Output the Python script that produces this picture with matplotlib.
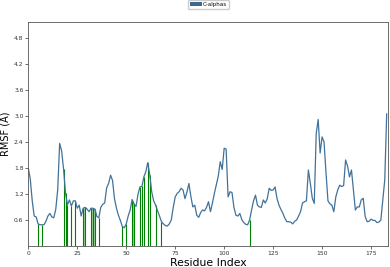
import numpy as np
import matplotlib.pyplot as plt
from matplotlib.patches import Patch

# RMSF per residue
rmsf = [
    1.80, 1.55, 1.05, 0.70, 0.68, 0.52, 0.50, 0.50, 0.50, 0.58,
    0.70, 0.76, 0.68, 0.66, 0.85, 1.30, 2.37, 2.20, 1.78, 1.22,
    0.96, 1.07, 0.93, 1.05, 1.05, 0.88, 0.95, 0.70, 0.88, 0.90,
    0.86, 0.80, 0.88, 0.88, 0.86, 0.69, 0.66, 0.90, 0.97, 1.00,
    1.35, 1.45, 1.64, 1.52, 1.10, 0.88, 0.72, 0.60, 0.46, 0.43,
    0.52, 0.70, 0.84, 1.08, 0.98, 0.92, 1.20, 1.37, 1.38, 1.60,
    1.72, 1.93, 1.65, 1.26, 1.05, 0.95, 0.82, 0.70, 0.57, 0.52,
    0.48, 0.47, 0.52, 0.61, 0.90, 1.14, 1.22, 1.26, 1.34, 1.30,
    1.10, 1.25, 1.45, 1.15, 0.91, 0.95, 0.72, 0.67, 0.78, 0.84,
    0.82, 0.90, 1.03, 0.80, 1.00, 1.22, 1.42, 1.62, 1.95, 1.77,
    2.26, 2.24, 1.14, 1.26, 1.24, 0.90, 0.72, 0.70, 0.76, 0.62,
    0.55, 0.51, 0.50, 0.61, 0.84, 1.05, 1.18, 0.95, 0.91, 0.90,
    1.07, 1.00, 1.10, 1.34, 1.29, 1.30, 1.37, 1.10, 0.95, 0.85,
    0.76, 0.65, 0.57, 0.57, 0.56, 0.52, 0.58, 0.61, 0.70, 0.80,
    1.00, 1.03, 1.05, 1.76, 1.45, 1.11, 0.99, 2.60, 2.92, 2.15,
    2.52, 2.40, 1.70, 1.05, 0.98, 0.95, 0.80, 1.14, 1.30, 1.41,
    1.38, 1.40, 1.99, 1.85, 1.60, 1.76, 1.30, 0.84, 0.91, 0.91,
    1.07, 1.11, 0.69, 0.57, 0.58, 0.63, 0.60, 0.60, 0.55, 0.56,
    0.61, 1.07, 1.53, 3.05,
]
residues = np.arange(len(rmsf))

# highlighted residues (green lines) and shaded runs
highlight = [5, 7, 18, 19, 20, 22, 24, 28, 29, 32, 33, 34, 36,
             48, 50, 53, 54, 57, 58, 59, 61, 62, 65, 68, 113]
span_start = [28, 32, 53]
span_end = [29, 34, 54]

y = np.array(rmsf)

fig = plt.figure(figsize=(3.9, 2.67), dpi=100)
ax = fig.add_axes([0.0726, 0.0768, 0.923, 0.842])

for s, e in zip(span_start, span_end):
    m = (residues >= s) & (residues <= e)
    ax.fill_between(residues[m], 0, y[m], color="green", alpha=0.4, linewidth=0)
ax.vlines(highlight, 0, y[highlight], color="green", linewidth=0.8)

ax.plot(residues, y, color="#41729a", linewidth=0.9)

ax.set_xlim(0, len(rmsf) - 1 + 0.8)
ax.set_ylim(0, 5.17)
ax.set_yticks([0.6, 1.2, 1.8, 2.4, 3.0, 3.6, 4.2, 4.8])
ax.set_xticks([0, 25, 50, 75, 100, 125, 150, 175])
ax.tick_params(labelsize=4.3, length=2, width=0.5, pad=1.5, colors="#333333")
for sp in ax.spines.values():
    sp.set_linewidth(0.6)
    sp.set_color("#555555")

ax.set_xlabel("Residue Index", fontsize=7.8, labelpad=1)
ax.set_ylabel("RMSF (Å)", fontsize=7, labelpad=2)

handle = Patch(facecolor="#3d6a8c", label="C-alphas")
ax.legend(handles=[handle], loc="lower center", bbox_to_anchor=(0.5, 1.045),
          fontsize=4, handlelength=2.2, handleheight=0.8, handletextpad=0.2,
          borderpad=0.3, framealpha=1, edgecolor="#cccccc")

fig.savefig("out.png", dpi=100)
